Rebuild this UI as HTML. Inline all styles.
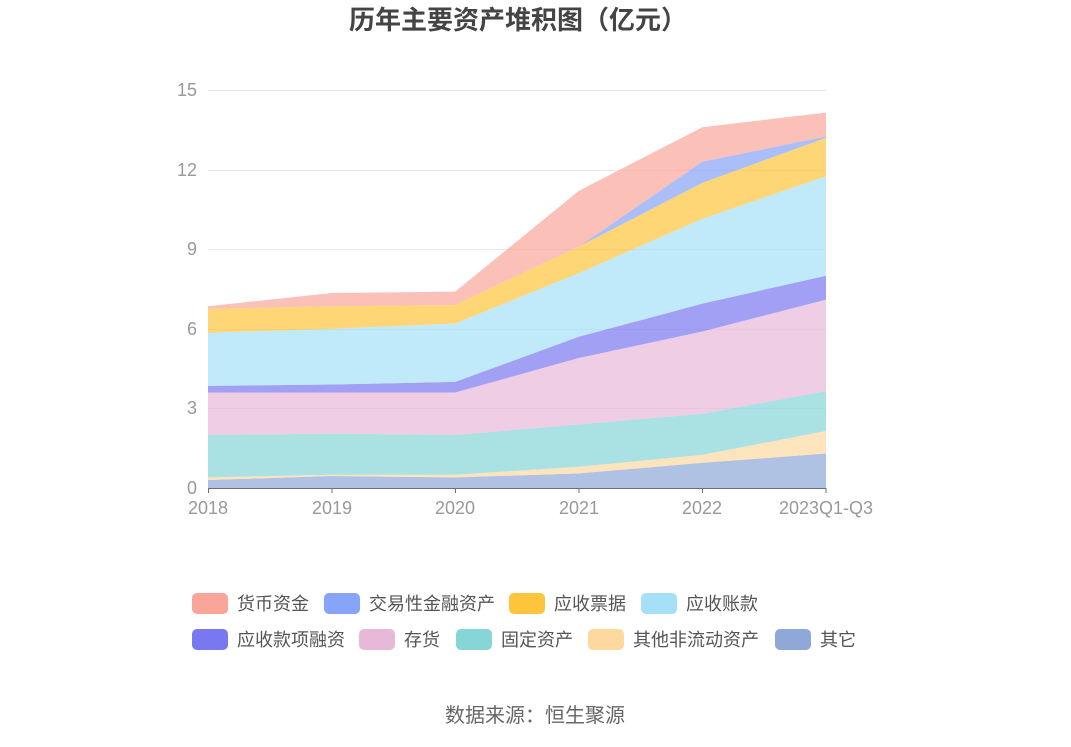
<!DOCTYPE html>
<html><head><meta charset="utf-8"><style>
body{margin:0;background:#fff;width:1071px;height:742px;overflow:hidden;font-family:"Liberation Sans","Noto Sans CJK SC",sans-serif}
</style></head><body>
<svg id="s" width="1071" height="742" xmlns="http://www.w3.org/2000/svg" font-family="Liberation Sans, Noto Sans CJK SC, sans-serif">
<text x="518" y="29" text-anchor="middle" font-size="26" font-weight="bold" fill="#444">历年主要资产堆积图（亿元）</text>
<g stroke="#e6e6f0" stroke-width="1">
<line x1="208" x2="826" y1="90.5" y2="90.5"/><line x1="208" x2="826" y1="170.5" y2="170.5"/>
<line x1="208" x2="826" y1="249.5" y2="249.5"/><line x1="208" x2="826" y1="329.5" y2="329.5"/>
<line x1="208" x2="826" y1="408.5" y2="408.5"/></g>
<g id="areas"></g>
<line x1="208" x2="826" y1="488.5" y2="488.5" stroke="#6e7079"/>
<g stroke="#6e7079"><line x1="208.5" x2="208.5" y1="488" y2="493"/><line x1="332" x2="332" y1="488" y2="493"/><line x1="455.5" x2="455.5" y1="488" y2="493"/><line x1="579" x2="579" y1="488" y2="493"/><line x1="702.5" x2="702.5" y1="488" y2="493"/><line x1="826" x2="826" y1="488" y2="493"/></g>
<g font-size="18" fill="#999" text-anchor="end">
<text x="197" y="96">15</text><text x="197" y="176">12</text><text x="197" y="255">9</text><text x="197" y="335">6</text><text x="197" y="414">3</text><text x="197" y="494">0</text></g>
<g font-size="18" fill="#999" text-anchor="middle">
<text x="208" y="514">2018</text><text x="332" y="514">2019</text><text x="455" y="514">2020</text><text x="579" y="514">2021</text><text x="702" y="514">2022</text><text x="826" y="514">2023Q1-Q3</text></g>
<g font-size="18" fill="#555">
<rect x="192" y="593" width="36" height="21" rx="5" fill="#f9a59a"/><text x="237" y="610">货币资金</text>
<rect x="324" y="593" width="36" height="21" rx="5" fill="#86a4f8"/><text x="369" y="610">交易性金融资产</text>
<rect x="509" y="593" width="36" height="21" rx="5" fill="#fdc43c"/><text x="554" y="610">应收票据</text>
<rect x="641" y="593" width="36" height="21" rx="5" fill="#a5dff8"/><text x="686" y="610">应收账款</text>
<rect x="192" y="629" width="36" height="21" rx="5" fill="#7a78f0"/><text x="237" y="646">应收款项融资</text>
<rect x="359" y="629" width="36" height="21" rx="5" fill="#e8b8d8"/><text x="404" y="646">存货</text>
<rect x="456" y="629" width="36" height="21" rx="5" fill="#86d6d8"/><text x="501" y="646">固定资产</text>
<rect x="588" y="629" width="36" height="21" rx="5" fill="#fdd9a0"/><text x="633" y="646">其他非流动资产</text>
<rect x="775" y="629" width="36" height="21" rx="5" fill="#8fa8d8"/><text x="820" y="646">其它</text>
</g>
<text x="535" y="722" text-anchor="middle" font-size="20" fill="#666">数据来源：恒生聚源</text>
</svg>
<script>
var xs=[208,331.6,455.2,578.8,702.4,826];
var cum=[[0,0,0,0,0,0],
[0.3,0.45,0.4,0.55,0.95,1.3],
[0.4,0.5,0.5,0.8,1.25,2.15],
[2.0,2.05,2.0,2.4,2.8,3.65],
[3.6,3.6,3.6,4.9,5.9,7.1],
[3.85,3.9,4.0,5.7,6.95,8.0],
[5.85,6.0,6.2,8.1,10.15,11.75],
[6.75,6.85,6.9,9.1,11.5,13.2],
[6.75,6.85,6.9,9.1,12.3,13.25],
[6.85,7.35,7.4,11.2,13.6,14.15]];
var cols=["#8fa8d8","#fdd9a0","#86d6d8","#e8b8d8","#7a78f0","#a5dff8","#fdc43c","#86a4f8","#f9a59a"];
var Y=function(v){return 488-v*26.53};
var g=document.getElementById('areas'),h='';
for(var i=1;i<cum.length;i++){var p='M';
for(var j=0;j<6;j++)p+=xs[j]+','+Y(cum[i][j])+' L';
for(var j=5;j>=0;j--)p+=xs[j]+','+Y(cum[i-1][j])+(j?' L':' Z');
h+='<path d="'+p+'" fill="'+cols[i-1]+'" fill-opacity="0.7"/>';}
g.innerHTML=h;
</script>
</body></html>
